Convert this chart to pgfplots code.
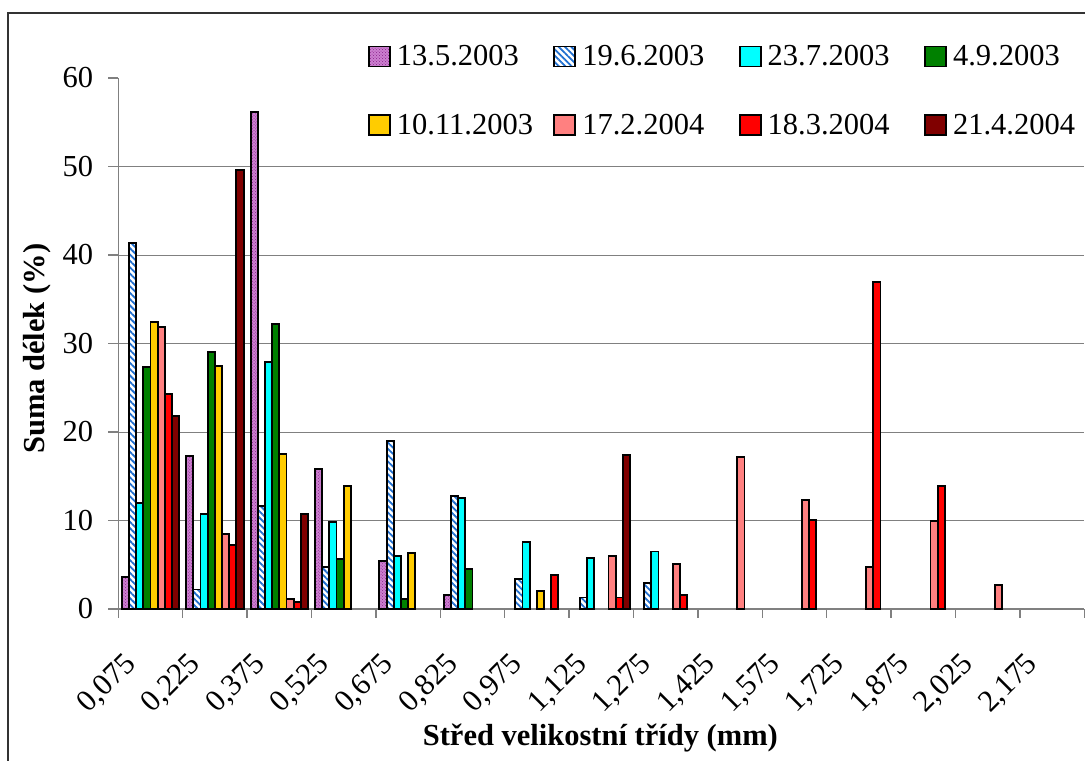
\documentclass[border=0pt]{standalone}
\usepackage{fontspec}
\setmainfont{Liberation Serif}
\usepackage{pgfplots}
\pgfplotsset{compat=1.18}
\usetikzlibrary{patterns,patterns.meta}
\definecolor{cPurple}{HTML}{8A1F8A}
\definecolor{cPurpleL}{HTML}{CC80D0}
\definecolor{cBlue}{HTML}{1F6FD0}
\definecolor{cCyan}{HTML}{00FFFF}
\definecolor{cGreen}{HTML}{008000}
\definecolor{cYellow}{HTML}{FFCC00}
\definecolor{cPink}{HTML}{FF8080}
\definecolor{cRed}{HTML}{FF0000}
\definecolor{cDark}{HTML}{800000}
\definecolor{cAxis}{HTML}{808080}
\newcommand\cf{\fontsize{30.5bp}{36bp}\selectfont}
\pgfplotsset{ybar legend/.style={/pgfplots/legend image code/.code={%
  \draw[##1] (0bp,-10bp) rectangle (21bp,10bp);}}}
\begin{document}
\begin{tikzpicture}
\useasboundingbox (0,0) rectangle (1085bp,761bp);
\fill[white] (0,0) rectangle (1085bp,761bp);
\draw[line width=1.5bp,black!80] (8bp,0bp) -- (8bp,748bp) -- (1085bp,748bp);
\begin{axis}[
  at={(118.3bp,152bp)}, anchor=south west,
  scale only axis, width=966bp, height=531bp,
  ybar=0pt, bar width=0.1115,
  xmin=-0.5, xmax=14.5, ymin=0, ymax=60,
  enlargelimits=false, clip=false,
  axis lines*=left,
  axis line style={cAxis, line width=1.3bp},
  tick align=outside,
  xtick={0,...,14},
  xticklabels={{0,075},{0,225},{0,375},{0,525},{0,675},{0,825},{0,975},{1,125},{1,275},{1,425},{1,575},{1,725},{1,875},{2,025},{2,175}},
  minor xtick={-0.5,0.5,...,14.5},
  major x tick style={draw=none},
  minor x tick style={cAxis, line width=1.3bp},
  minor tick length=9bp,
  major tick length=10bp,
  ytick={0,10,...,60},
  major y tick style={cAxis, line width=1.3bp},
  extra y ticks={10,20,30,40,50},
  extra y tick labels={},
  extra y tick style={grid=major, major tick length=0pt, major grid style={cAxis, line width=1bp}},
  /pgf/number format/assume math mode=true,
  yticklabel style={font=\cf, inner sep=0pt, xshift=-15bp},
  xticklabel style={font=\cf, inner sep=0pt, xshift=-18.8bp, yshift=-40.7bp, rotate=45, anchor=east},
  ylabel={\bfseries Suma délek (\%)},
  ylabel style={font=\cf, at={(axis description cs:-0.0842,0.49)}, anchor=center},
  xlabel={\bfseries Střed velikostní třídy (mm)},
  xlabel style={font=\cf, at={(axis description cs:0.499,-0.2427)}, anchor=center},
  legend columns=4,
  legend cell align=left,
  legend style={draw=none, fill=none, font=\cf, inner sep=0pt, outer sep=0pt,
    at={(axis description cs:0.2585,1.0612)}, anchor=north west,
    nodes={inner sep=0pt, text width=140bp},
    row sep=47bp,
    /tikz/every odd column/.append style={column sep=6bp},
    /tikz/every even column/.append style={column sep=16.5bp}},
  every axis plot/.append style={draw=black, line width=1.9bp},
]
% 13.5.2003
\addplot[fill=cPurpleL, postaction={pattern=crosshatch dots, pattern color=cPurple}] coordinates {(0,3.6) (1,17.3) (2,56.2) (3,15.8) (4,5.4) (5,1.6)};
% 19.6.2003
\addplot[fill=white, postaction={pattern={Lines[angle=-45,distance=4.5bp,line width=1.8bp]}, pattern color=cBlue}] coordinates {(0,41.4) (1,2.2) (2,11.6) (3,4.7) (4,19.0) (5,12.8) (6,3.4) (7,1.3) (8,2.9)};
% 23.7.2003
\addplot[fill=cCyan] coordinates {(0,12.0) (1,10.7) (2,27.9) (3,9.8) (4,6.0) (5,12.5) (6,7.6) (7,5.8) (8,6.5)};
% 4.9.2003
\addplot[fill=cGreen] coordinates {(0,27.3) (1,29.0) (2,32.2) (3,5.6) (4,1.1) (5,4.5)};
% 10.11.2003
\addplot[fill=cYellow] coordinates {(0,32.4) (1,27.5) (2,17.5) (3,13.9) (4,6.3) (6,2.0)};
% 17.2.2004
\addplot[fill=cPink] coordinates {(0,31.9) (1,8.5) (2,1.1) (7,6.0) (8,5.1) (9,17.2) (10,12.3) (11,4.7) (12,9.9) (13,2.7)};
% 18.3.2004
\addplot[fill=cRed] coordinates {(0,24.3) (1,7.2) (2,0.8) (6,3.8) (7,1.3) (8,1.6) (10,10.1) (11,36.9) (12,13.9)};
% 21.4.2004
\addplot[fill=cDark] coordinates {(0,21.8) (1,49.6) (2,10.7) (7,17.4)};
\legend{13.5.2003,19.6.2003,23.7.2003,4.9.2003,10.11.2003,17.2.2004,18.3.2004,21.4.2004}
\end{axis}
\end{tikzpicture}
\end{document}
